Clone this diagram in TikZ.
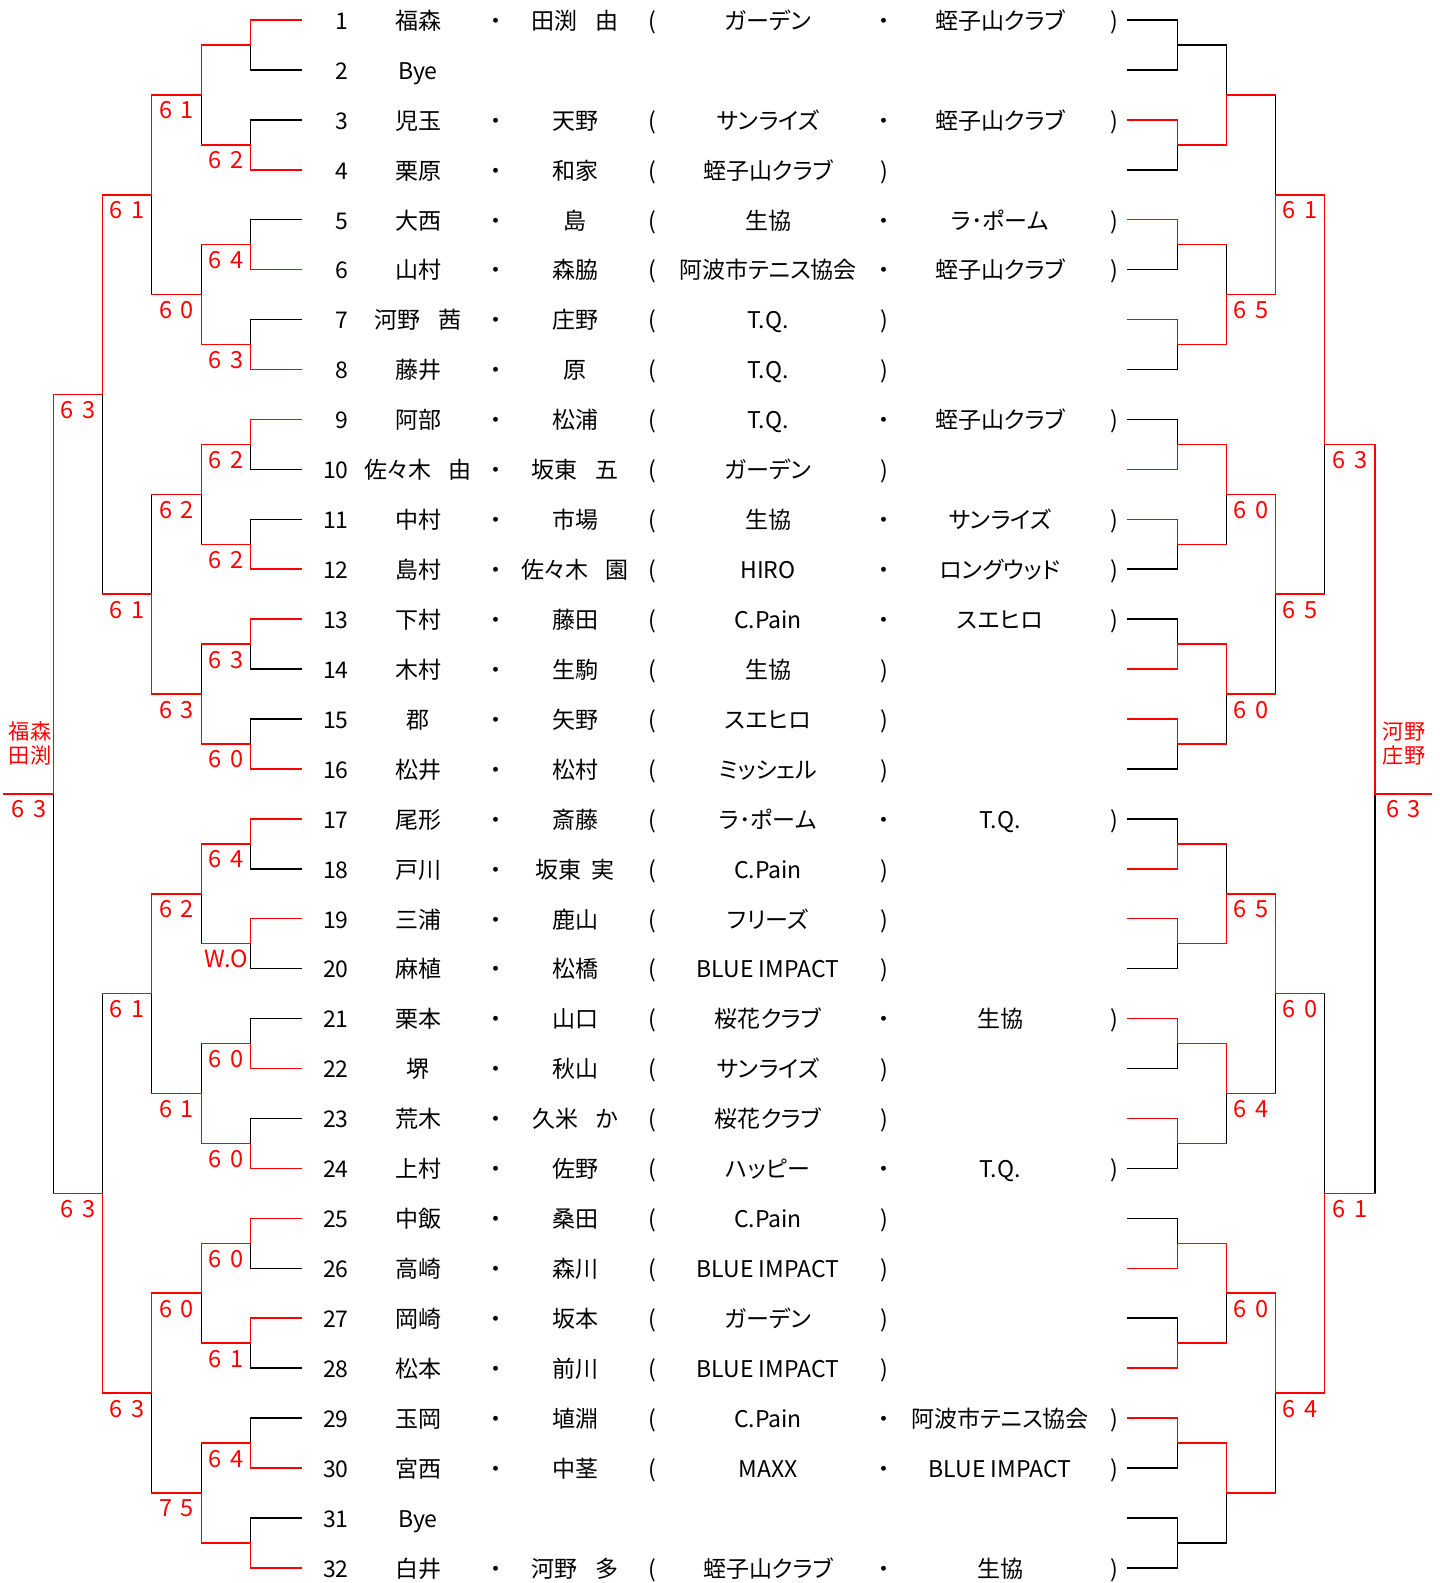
\documentclass[tikz,border=0pt]{standalone}
\usepackage{fontspec}
\setmainfont{Noto Sans CJK JP}[RawFeature=+palt]
\newif\ifredpass
% segment: colour code (r/k), x1,y1,x2,y2
\newcommand\sg[5]{\ifredpass\if r#1\draw[ln,red] (#2,#3) -- (#4,#5);\fi\else\if k#1\draw[ln,black] (#2,#3) -- (#4,#5);\fi\fi}
% match: xv, xo, ytop, ybot, yout, winner (t/b/n)
\newcommand\brk[6]{%
  \def\tc{k}\def\bc{k}\def\oc{k}%
  \if t#6\def\tc{r}\def\oc{r}\fi
  \if b#6\def\bc{r}\def\oc{r}\fi
  \sg{\tc}{#1}{#3}{#1}{#5}%
  \sg{\bc}{#1}{#5}{#1}{#4}%
  \sg{\oc}{#2}{#5}{#1}{#5}%
}
% first round: leaf outer x, xv, xo, list
\newcommand\rone[4]{%
 \foreach \k/\w in {#4}{%
  \pgfmathsetmacro\ya{20+99.86*(\k-1)}%
  \pgfmathsetmacro\yb{\ya+49.93}%
  \pgfmathsetmacro\ym{\ya+24.965}%
  \def\lt{k}\def\lb{k}%
  \if t\w\def\lt{r}\fi
  \if b\w\def\lb{r}\fi
  \sg{\lt}{#1}{\ya}{#2}{\ya}%
  \sg{\lb}{#1}{\yb}{#2}{\yb}%
  \brk{#2}{#3}{\ya}{\yb}{\ym}{\w}%
 }}
% later rounds: xv, xo, base, step, gap, list
\newcommand\rn[6]{%
 \foreach \k/\w in {#6}{%
  \pgfmathsetmacro\ya{#3+#4*(\k-1)}%
  \pgfmathsetmacro\yb{\ya+#5}%
  \pgfmathsetmacro\ym{\ya+#5/2}%
  \brk{#1}{#2}{\ya}{\yb}{\ym}{\w}}}
\newcommand\drawall{%
  % left
  \rone{301}{250.7}{201.7}{1/t,2/b,3/b,4/b,5/t,6/b,7/t,8/b,9/t,10/t,11/b,12/b,13/t,14/t,15/b,16/b}
  \rn{201.7}{151.7}{44.965}{199.72}{99.86}{1/t,2/b,3/t,4/b,5/t,6/b,7/t,8/b}
  \rn{151.7}{102.7}{94.895}{399.44}{199.72}{1/t,2/b,3/t,4/t}
  \brk{102.7}{53.7}{194.755}{594.195}{394.475}{t}
  \brk{102.7}{53.7}{993.635}{1393.075}{1193.355}{b}
  \brk{53.7}{4}{394.475}{1193.355}{793.9}{t}
  % right
  \rone{1128}{1177.7}{1226.7}{1/n,2/t,3/t,4/t,5/b,6/t,7/b,8/t,9/b,10/t,11/t,12/t,13/b,14/b,15/t,16/n}
  \rn{1226.7}{1275.7}{44.965}{199.72}{99.86}{1/b,2/b,3/t,4/t,5/b,6/t,7/t,8/t}
  \rn{1275.7}{1324.7}{94.895}{399.44}{199.72}{1/b,2/t,3/t,4/t}
  \brk{1324.7}{1375}{194.755}{594.195}{444.4}{t}
  \brk{1324.7}{1375}{993.635}{1393.075}{1193.355}{b}
  \brk{1375}{1431.7}{444.4}{1193.355}{793.9}{t}
}
\newcommand\sco[2]{#1\hspace{0.36em}#2}
% text row: number, name1, name2, club1, club2
\newcommand\prow[5]{%
 \pgfmathsetmacro\yy{20+49.93*(#1-1)+9.3}%
 \node[txt,anchor=base east] (num#1) at (349,\yy) {#1};
 \node[txt] (na#1) at (418,\yy) {#2};
 \if\relax\detokenize{#3}\relax\else
   \node[txt] (da#1) at (496,\yy) {・};
   \node[txt] (nb#1) at (575,\yy) {#3};
   \node[txt] (pa#1) at (652,\yy) {(};
   \node[txt] (ca#1) at (768,\yy) {#4};
   \if\relax\detokenize{#5}\relax
     \node[txt] (pb#1) at (884,\yy) {)};
   \else
     \node[txt] (db#1) at (884,\yy) {・};
     \node[txt] (cb#1) at (1000,\yy) {#5};
     \node[txt] (pb#1) at (1114,\yy) {)};
   \fi
 \fi}
\begin{document}
\begin{tikzpicture}[x=0.5pt,y=-0.5pt,
  ln/.style={line width=0.75pt,line cap=rect},
  txt/.style={anchor=base,inner sep=0pt,font=\fontsize{11.5}{13}\selectfont},
  sc/.style={anchor=base,inner sep=0pt,text=red,font=\fontsize{11.8}{13}\selectfont},
  wn/.style={anchor=base,inner sep=0pt,text=red,font=\fontsize{10.6}{12}\selectfont}]
\useasboundingbox (0,0) rectangle (1439,1583);
\fill[white] (0,0) rectangle (1439,1583);
\redpassfalse
\drawall
\redpasstrue
\drawall
% score labels left
\foreach \k/\t in {2/\sco62,3/\sco64,4/\sco63,5/\sco62,6/\sco62,7/\sco63,8/\sco60,9/\sco64,10/W.O,11/\sco60,12/\sco60,13/\sco60,14/\sco61,15/\sco64}
  \node[sc] (sla\k) at (226.2,{44.965+99.86*(\k-1)+24}) {\t};
\foreach \k/\t in {1/\sco61,2/\sco60,3/\sco62,4/\sco63,5/\sco62,6/\sco61,7/\sco60,8/\sco75}
  \node[sc] (slb\k) at (176.7,{94.895+199.72*(\k-1)+24}) {\t};
\foreach \k/\t in {1/\sco61,2/\sco61,3/\sco61,4/\sco63}
  \node[sc] (slc\k) at (127.2,{194.755+399.44*(\k-1)+24}) {\t};
\node[sc] (sld1) at (78.2,418.5) {\sco63};
\node[sc] (sld2) at (78.2,1217.4) {\sco63};
\node[sc] (slf) at (29,817.9) {\sco63};
\node[wn] (wl1) at (30,739) {福森};
\node[wn] (wl2) at (30,763) {田渕};
% score labels right
\foreach \k/\t in {2/\sco65,3/\sco60,4/\sco60,5/\sco65,6/\sco64,7/\sco60}
  \node[sc] (srb\k) at (1251.2,{94.895+199.72*(\k-1)+24}) {\t};
\foreach \k/\t in {1/\sco61,2/\sco65,3/\sco60,4/\sco64}
  \node[sc] (src\k) at (1300.2,{194.755+399.44*(\k-1)+24}) {\t};
\node[sc] (srd1) at (1349.9,468.4) {\sco63};
\node[sc] (srd2) at (1349.9,1217.4) {\sco61};
\node[sc] (srf) at (1403.5,817.9) {\sco63};
\node[wn] (wr1) at (1404,739) {河野};
\node[wn] (wr2) at (1404,763) {庄野};
% rows
\prow{1}{福森}{田渕\hspace{0.75em}由}{ガーデン}{蛭子山クラブ}
\prow{2}{Bye}{}{}{}
\prow{3}{児玉}{天野}{サンライズ}{蛭子山クラブ}
\prow{4}{栗原}{和家}{蛭子山クラブ}{}
\prow{5}{大西}{島}{生協}{ラ･ポーム}
\prow{6}{山村}{森脇}{阿波市テニス協会}{蛭子山クラブ}
\prow{7}{河野\hspace{0.75em}茜}{庄野}{T.Q.}{}
\prow{8}{藤井}{原}{T.Q.}{}
\prow{9}{阿部}{松浦}{T.Q.}{蛭子山クラブ}
\prow{10}{佐々木\hspace{0.75em}由}{坂東\hspace{0.75em}五}{ガーデン}{}
\prow{11}{中村}{市場}{生協}{サンライズ}
\prow{12}{島村}{佐々木\hspace{0.75em}園}{HIRO}{ロングウッド}
\prow{13}{下村}{藤田}{C.Pain}{スエヒロ}
\prow{14}{木村}{生駒}{生協}{}
\prow{15}{郡}{矢野}{スエヒロ}{}
\prow{16}{松井}{松村}{ミッシェル}{}
\prow{17}{尾形}{斎藤}{ラ･ポーム}{T.Q.}
\prow{18}{戸川}{坂東\hspace{0.45em}実}{C.Pain}{}
\prow{19}{三浦}{鹿山}{フリーズ}{}
\prow{20}{麻植}{松橋}{BLUE IMPACT}{}
\prow{21}{栗本}{山口}{桜花クラブ}{生協}
\prow{22}{堺}{秋山}{サンライズ}{}
\prow{23}{荒木}{久米\hspace{0.75em}か}{桜花クラブ}{}
\prow{24}{上村}{佐野}{ハッピー}{T.Q.}
\prow{25}{中飯}{桑田}{C.Pain}{}
\prow{26}{高崎}{森川}{BLUE IMPACT}{}
\prow{27}{岡崎}{坂本}{ガーデン}{}
\prow{28}{松本}{前川}{BLUE IMPACT}{}
\prow{29}{玉岡}{埴淵}{C.Pain}{阿波市テニス協会}
\prow{30}{宮西}{中茎}{MAXX}{BLUE IMPACT}
\prow{31}{Bye}{}{}{}
\prow{32}{白井}{河野\hspace{0.75em}多}{蛭子山クラブ}{生協}
\end{tikzpicture}
\end{document}
